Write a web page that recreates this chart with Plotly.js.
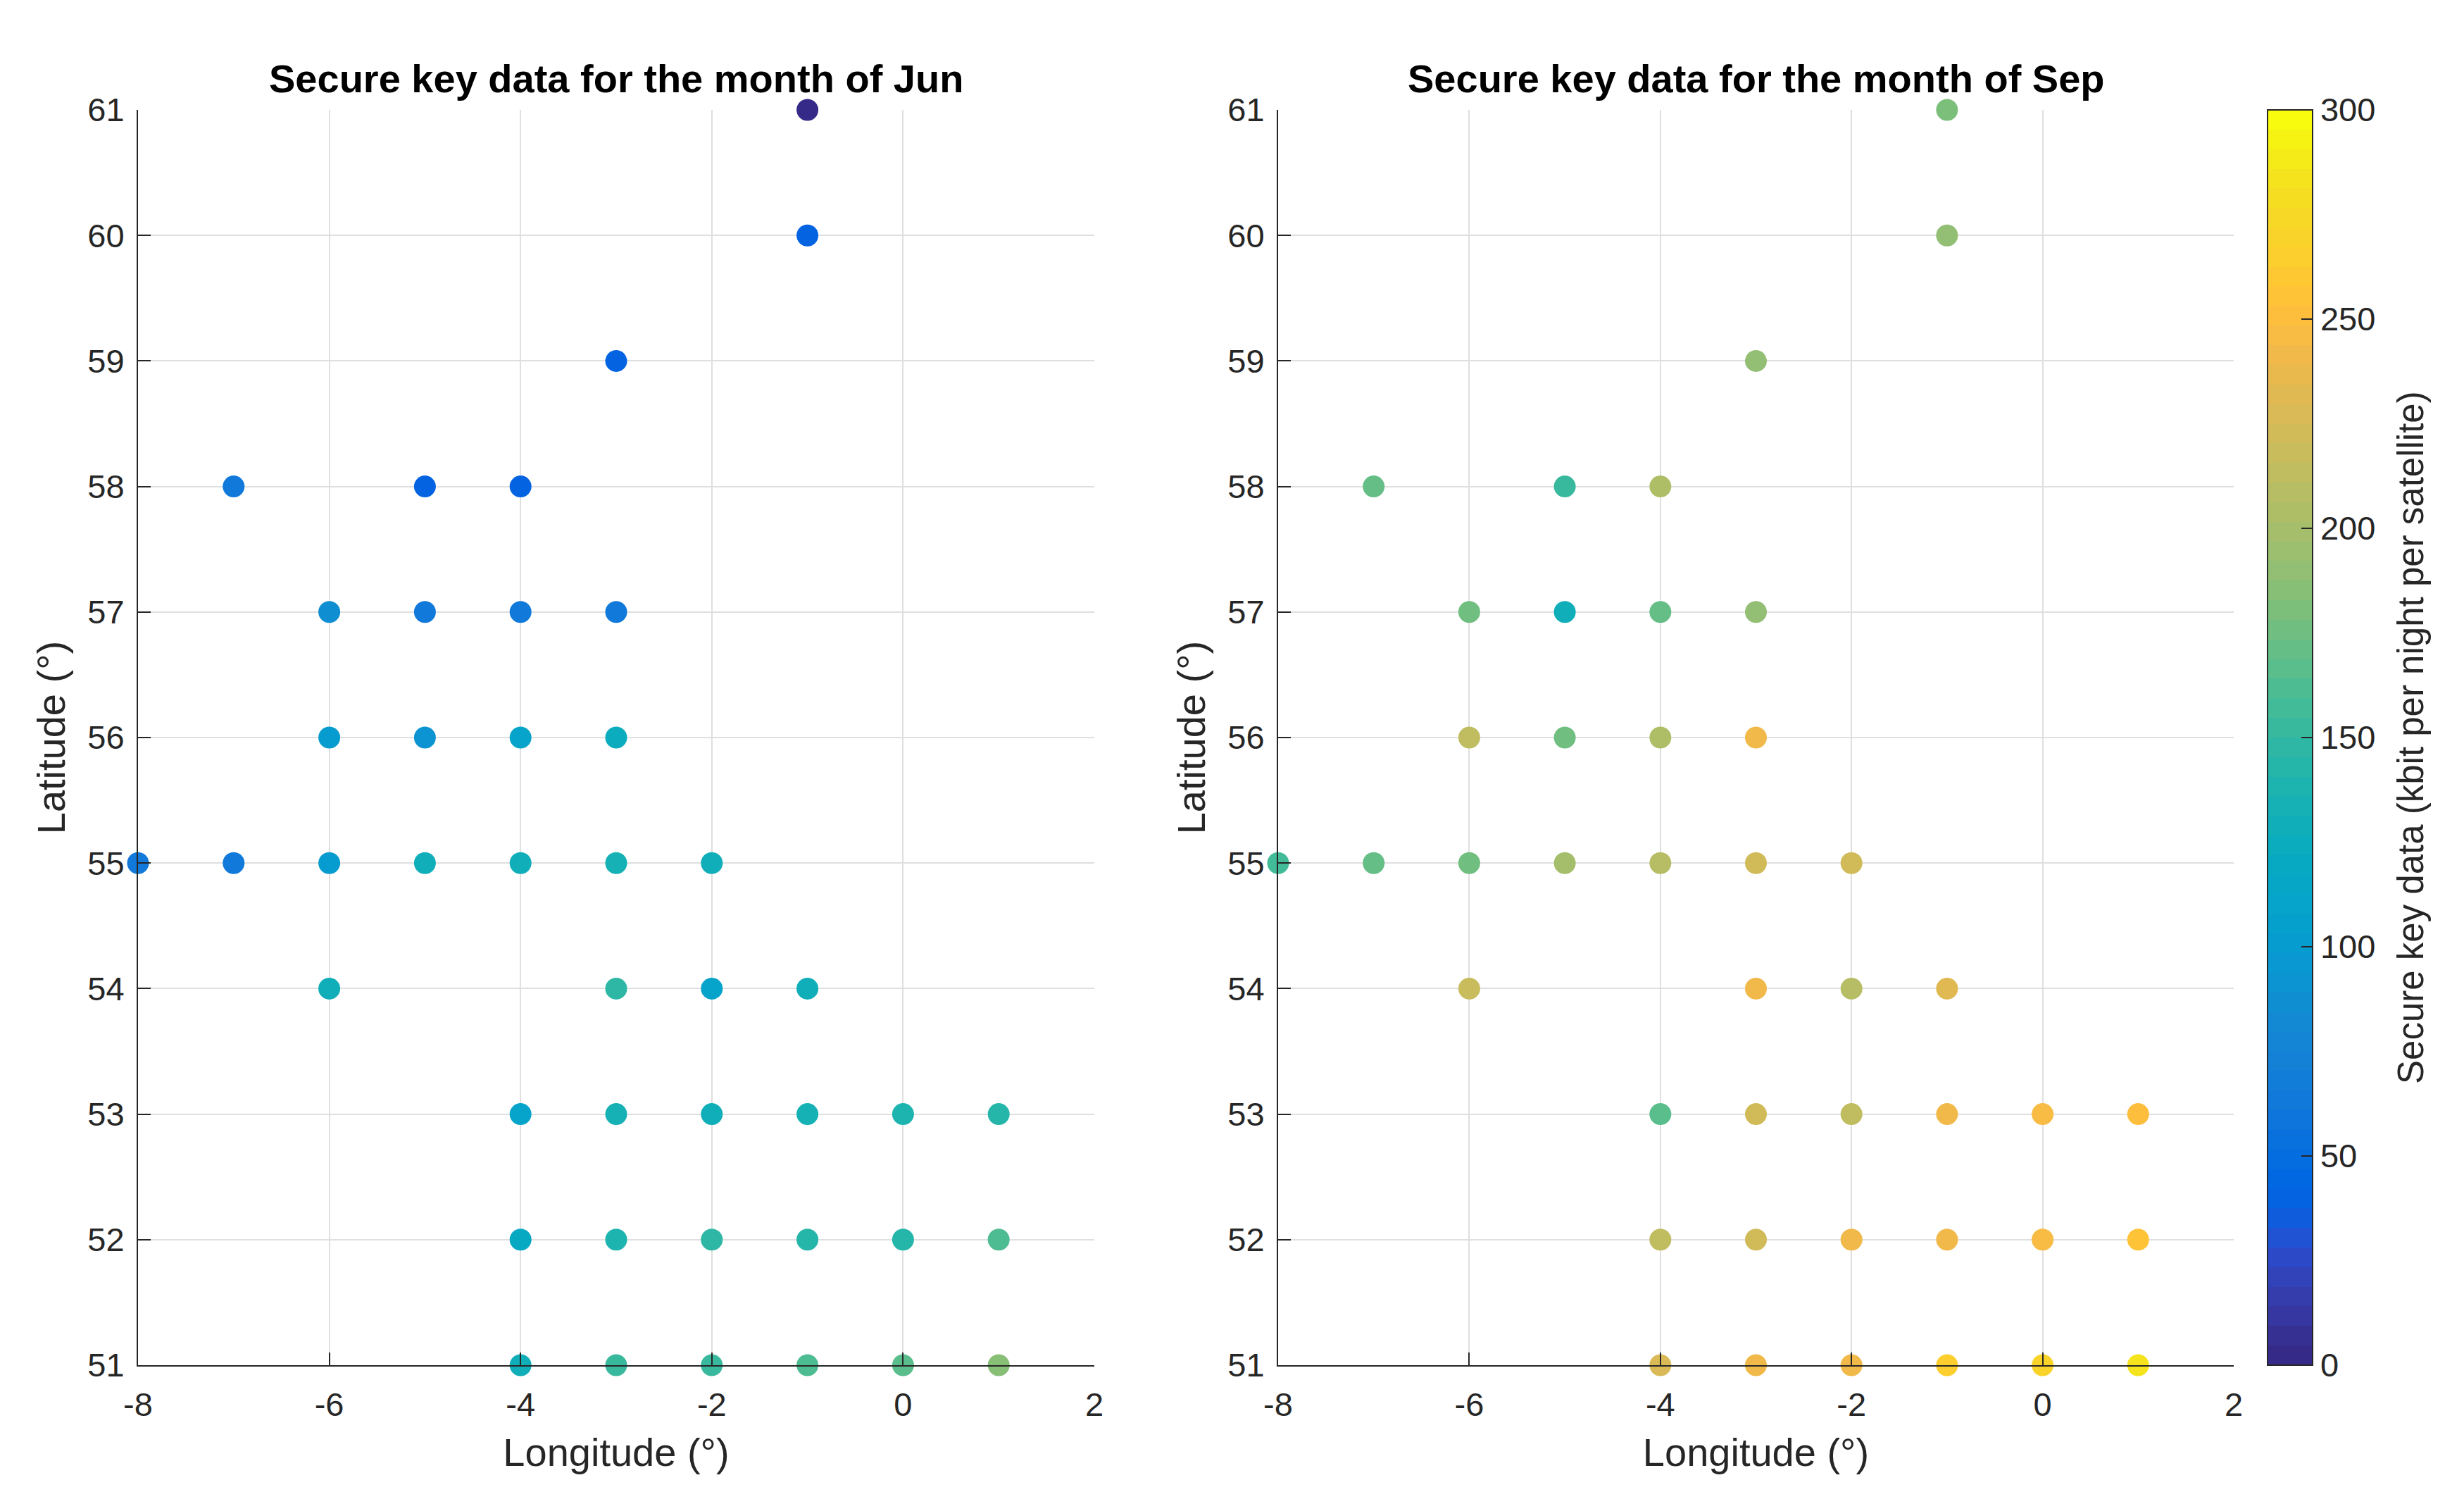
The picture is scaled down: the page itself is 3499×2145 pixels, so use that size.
<!DOCTYPE html>
<html>
<head>
<meta charset="utf-8">
<script src="https://cdn.plot.ly/plotly-3.0.1.min.js"></script>
<style>html,body{margin:0;padding:0;background:#fff;}#chart{width:3499px;height:2145px;}</style>
</head>
<body>
<div id="chart"></div>
<script>
// ---- data ----
const lon = [-1,-1,-3,-7,-5,-4,-6,-5,-4,-3,-6,-5,-4,-3,-8,-7,-6,-5,-4,-3,-2,-6,-3,-2,-1,-4,-3,-2,-1,0,1,-4,-3,-2,-1,0,1,-4,-3,-2,-1,0,1];
const lat = [61,60,59,58,58,58,57,57,57,57,56,56,56,56,55,55,55,55,55,55,55,54,54,54,54,53,53,53,53,53,53,52,52,52,52,52,52,51,51,51,51,51,51];
const junKey = [4,40,40,62,40,40,86,63,63,63,100,92,112,125,63,63,100,129,128,133,130,128,148,110,128,110,132,128,133,140,142,120,138,148,145,142,162,130,152,150,163,166,183];
const sepKey = [180,192,192,170,153,205,178,130,170,192,212,178,205,243,158,170,178,198,210,224,224,220,243,210,232,166,224,212,243,244,250,212,224,243,241,247,254,228,241,243,265,268,285];
const xTickVals = [-8,-6,-4,-2,0,2];
const xTickText = ['-8','-6','-4','-2','0','2'];
const yTickVals = [51,52,53,54,55,56,57,58,59,60,61];
const cTickVals = [0,50,100,150,200,250,300];
const titles = ['Secure key data for the month of Jun','Secure key data for the month of Sep'];
const cbTitle = 'Secure key data (kbit per night per satellite)';

// ---- parula colormap (64) ----
const PARULA = [[0.2081,0.1663,0.5292],[0.2116,0.1898,0.5777],[0.2123,0.2138,0.6270],[0.2081,0.2386,0.6771],[0.1959,0.2645,0.7279],[0.1707,0.2919,0.7792],[0.1253,0.3242,0.8303],[0.0591,0.3598,0.8683],[0.0117,0.3875,0.8820],[0.0060,0.4086,0.8828],[0.0165,0.4266,0.8786],[0.0329,0.4430,0.8720],[0.0498,0.4586,0.8641],[0.0629,0.4737,0.8554],[0.0723,0.4887,0.8467],[0.0779,0.5040,0.8384],[0.0793,0.5200,0.8312],[0.0749,0.5375,0.8263],[0.0641,0.5570,0.8240],[0.0488,0.5772,0.8228],[0.0343,0.5966,0.8199],[0.0265,0.6137,0.8135],[0.0239,0.6287,0.8038],[0.0231,0.6418,0.7913],[0.0228,0.6535,0.7768],[0.0267,0.6642,0.7607],[0.0384,0.6743,0.7436],[0.0590,0.6838,0.7254],[0.0843,0.6928,0.7062],[0.1133,0.7015,0.6859],[0.1453,0.7098,0.6646],[0.1801,0.7177,0.6424],[0.2178,0.7250,0.6193],[0.2586,0.7317,0.5954],[0.3022,0.7376,0.5712],[0.3482,0.7424,0.5473],[0.3953,0.7459,0.5244],[0.4420,0.7481,0.5033],[0.4871,0.7491,0.4840],[0.5300,0.7491,0.4661],[0.5709,0.7485,0.4494],[0.6099,0.7473,0.4337],[0.6473,0.7456,0.4188],[0.6834,0.7435,0.4044],[0.7184,0.7411,0.3905],[0.7525,0.7384,0.3768],[0.7858,0.7356,0.3633],[0.8185,0.7327,0.3498],[0.8507,0.7299,0.3360],[0.8824,0.7274,0.3217],[0.9139,0.7258,0.3063],[0.9450,0.7261,0.2886],[0.9739,0.7314,0.2666],[0.9938,0.7455,0.2403],[0.9990,0.7653,0.2164],[0.9955,0.7861,0.1967],[0.9880,0.8066,0.1794],[0.9789,0.8271,0.1633],[0.9697,0.8481,0.1475],[0.9626,0.8705,0.1309],[0.9589,0.8949,0.1132],[0.9598,0.9218,0.0948],[0.9661,0.9514,0.0755],[0.9763,0.9831,0.0538]];
const rgb = c => 'rgb(' + c.map(v => Math.round(v*255)).join(',') + ')';
const colorscale = [];
PARULA.forEach((c, i) => {
  colorscale.push([i/64, rgb(c)]);
  colorscale.push([(i+1)/64, rgb(c)]);
});

const FONT = 'Liberation Sans, Arial, sans-serif';
const TXT = '#262626';

const W = 3499, H = 2145, M = 20;
const px = v => (v - M) / (W - 2*M);
const py = v => (H - M - v) / (H - 2*M);

const yDom = [py(1938), py(156)];

function trace(vals, xa, ya) {
  return {
    type: 'scatter', mode: 'markers',
    x: lon, y: lat, xaxis: xa, yaxis: ya,
    cliponaxis: false,
    marker: { size: 31, color: vals, coloraxis: 'coloraxis', line: {width: 0} },
    hoverinfo: 'x+y'
  };
}

function xAxis(dom) {
  return {
    domain: dom, range: [-8, 2], tickvals: xTickVals, ticktext: xTickText,
    showgrid: true, gridcolor: '#dfdfdf', gridwidth: 2, zeroline: false,
    showline: true, linecolor: TXT, linewidth: 2, mirror: false,
    ticks: 'inside', ticklen: 18, tickwidth: 2, tickcolor: TXT,
    tickfont: {family: FONT, size: 47, color: TXT},
    ticklabelstandoff: 14,
    title: {text: 'Longitude (°)', font: {family: FONT, size: 56, color: TXT}, standoff: 22},
    fixedrange: true
  };
}
function yAxis(dom, anchor) {
  return {
    domain: dom, range: [51, 61], tickvals: yTickVals, anchor: anchor,
    showgrid: true, gridcolor: '#dfdfdf', gridwidth: 2, zeroline: false,
    showline: true, linecolor: TXT, linewidth: 2, mirror: false,
    ticks: 'inside', ticklen: 18, tickwidth: 2, tickcolor: TXT,
    tickfont: {family: FONT, size: 47, color: TXT},
    ticklabelstandoff: 8,
    title: {text: 'Latitude (°)', font: {family: FONT, size: 56, color: TXT}, standoff: 14},
    fixedrange: true
  };
}

const xd1 = [px(196), px(1554)];
const xd2 = [px(1815), px(3172)];

const annotations = titles.map((t, i) => ({
  text: '<b>' + t + '</b>', xref: (i === 0 ? 'x' : 'x2') + ' domain', x: 0.5,
  yref: 'paper', y: py(112), xanchor: 'center', yanchor: 'middle',
  showarrow: false, font: {family: FONT, size: 56, color: '#000000'}
}));
annotations.push({
  text: cbTitle, xref: 'paper', x: px(3423), yref: 'paper', y: (yDom[0] + yDom[1]) / 2,
  xanchor: 'center', yanchor: 'middle', textangle: -90, showarrow: false,
  font: {family: FONT, size: 51, color: TXT}
});

const layout = {
  width: W, height: H,
  margin: {l: M, r: M, t: M, b: M},
  paper_bgcolor: '#ffffff', plot_bgcolor: '#ffffff',
  showlegend: false,
  font: {family: FONT, color: TXT},
  xaxis: Object.assign(xAxis(xd1), {anchor: 'y'}),
  yaxis: yAxis(yDom, 'x'),
  xaxis2: Object.assign(xAxis(xd2), {anchor: 'y2'}),
  yaxis2: yAxis(yDom, 'x2'),
  coloraxis: {
    cmin: 0, cmax: 300, colorscale: colorscale,
    colorbar: {
      x: px(3220), xanchor: 'left', xpad: 0,
      y: (yDom[0] + yDom[1]) / 2, yanchor: 'middle', ypad: 0,
      len: 1782, lenmode: 'pixels', thickness: 64, thicknessmode: 'pixels',
      outlinecolor: TXT, outlinewidth: 2,
      tickvals: cTickVals, ticks: 'inside', ticklen: 17, tickwidth: 2, tickcolor: TXT,
      tickfont: {family: FONT, size: 47, color: TXT}
    }
  },
  annotations: annotations
};

Plotly.newPlot('chart', [trace(junKey, 'x', 'y'), trace(sepKey, 'x2', 'y2')], layout,
  {displayModeBar: false, staticPlot: true});
</script>
</body>
</html>
